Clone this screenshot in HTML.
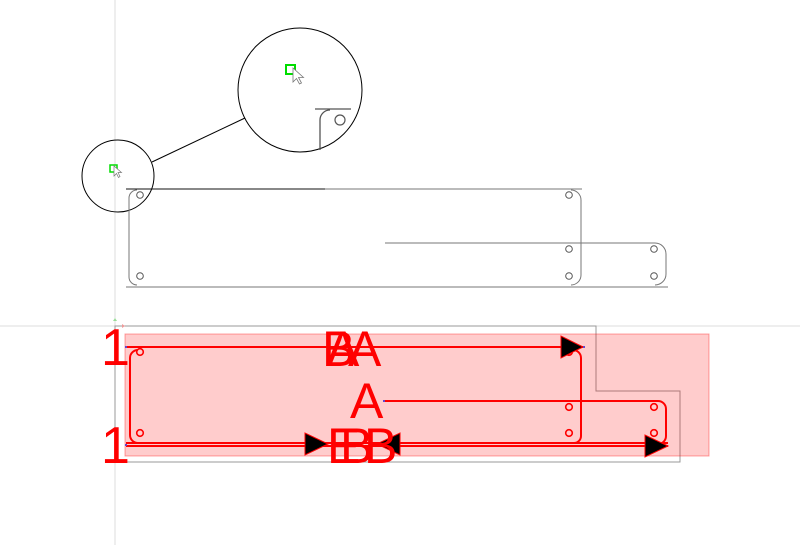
<!DOCTYPE html>
<html><head><style>html,body{margin:0;padding:0;background:#fff;width:800px;height:545px;overflow:hidden}</style></head>
<body>
<svg width="800" height="545" viewBox="0 0 800 545" xmlns="http://www.w3.org/2000/svg" font-family="Liberation Sans, sans-serif">
<line x1="115" y1="0" x2="115" y2="545" stroke="#ddd" stroke-width="1"/>
<line x1="0" y1="326" x2="800" y2="326" stroke="#ddd" stroke-width="1"/>
<circle cx="118" cy="176" r="36" fill="none" stroke="#000" stroke-width="1"/>
<circle cx="300" cy="90" r="62" fill="none" stroke="#000" stroke-width="1"/>
<line x1="152" y1="162" x2="245" y2="118" stroke="#000"/>
<rect x="110" y="165" width="7" height="7" fill="none" stroke="#0d0" stroke-width="1.5"/>
<path d="M114 166 l0 10 l2.5-2.5 l2 4 l1.5-1 l-2-4 l3.5 0 z" fill="#fff" stroke="#777" stroke-width="0.7"/>
<rect x="286" y="65" width="9" height="9" fill="none" stroke="#0d0" stroke-width="2"/>
<path d="M293 68 l0 14 l3.5-3.5 l3 5.5 l2-1 l-3-5.5 l5 0 z" fill="#fff" stroke="#777" stroke-width="0.8"/>
<path d="M315 109 h36 M320 150 v-30 a10 10 0 0 1 10 -10" fill="none" stroke="#555" stroke-width="1.3"/>
<circle cx="340" cy="120" r="5" fill="none" stroke="#555" stroke-width="1.2"/>
<line x1="126" y1="189" x2="325" y2="189" stroke="#111"/>
<line x1="325" y1="189" x2="582" y2="189" stroke="#777"/>
<path d="M137 190 a8 8 0 0 0 -8 8 v79 a8 8 0 0 0 8 8 M571 190 a10 10 0 0 1 10 10 v75 a10 10 0 0 1 -10 10" fill="none" stroke="#777"/>
<path d="M385 243 h270 a11 11 0 0 1 11 11 v20 a11 11 0 0 1 -11 11" fill="none" stroke="#777"/>
<line x1="126" y1="287" x2="668" y2="287" stroke="#777"/>
<g fill="none" stroke="#555" stroke-width="1">
<circle cx="140" cy="195" r="3.3"/><circle cx="140" cy="276" r="3.3"/>
<circle cx="569" cy="195" r="3.3"/><circle cx="569" cy="249" r="3.3"/><circle cx="569" cy="276" r="3.3"/>
<circle cx="654" cy="249" r="3.3"/><circle cx="654" cy="276" r="3.3"/>
</g>
<path d="M115 326 H596 V391 H680 V462 H115 Z" fill="none" stroke="#999"/>
<rect x="125" y="334" width="584" height="122" fill="rgba(255,0,0,0.2)" stroke="rgba(255,0,0,0.35)"/>
<g fill="none" stroke="#f00" stroke-width="2">
<line x1="126" y1="347" x2="583" y2="347"/>
<path d="M138 350 a8 8 0 0 0 -8 8 v77 a8 8 0 0 0 8 8 M573 350 a8 8 0 0 1 8 8 v78 a7 7 0 0 1 -7 7"/>
<path d="M384 401 h274 a8 8 0 0 1 8 8 v27 a8 8 0 0 1 -8 8"/>
<line x1="126" y1="443" x2="668" y2="443"/>
<line x1="126" y1="446" x2="668" y2="446"/>
</g>
<g fill="none" stroke="#f00" stroke-width="1.6">
<circle cx="140" cy="352" r="3.3"/><circle cx="140" cy="433" r="3.3"/>
<circle cx="569" cy="352" r="3.3"/><circle cx="569" cy="407" r="3.3"/><circle cx="569" cy="433" r="3.3"/>
<circle cx="654" cy="407" r="3.3"/><circle cx="654" cy="433" r="3.3"/>
</g>
<g fill="#000" stroke="#f00" stroke-width="1">
<path d="M583 347 L561 336 L561 358 Z"/>
<path d="M668 446 L645 435 L645 457 Z"/>
<path d="M328 444 L305 433 L305 455 Z"/>
<path d="M377 444 L400 433 L400 455 Z"/>
</g>
<g fill="#f00" font-size="50">
<text x="101" y="365" font-size="52">1</text>
<text x="101" y="463" font-size="52">1</text>
<text x="322" y="366">B</text>
<text x="326" y="366">A</text>
<text x="348" y="366">A</text>
<text x="350" y="418">A</text>
<text x="327" y="463">E</text>
<text x="340" y="463">B</text>
<text x="364" y="463">B</text>
</g>
<g fill="#64c">
<rect x="125" y="346" width="2" height="2"/><rect x="125" y="444" width="2" height="2"/>
<rect x="383" y="400" width="2" height="2"/><rect x="583" y="346" width="2" height="2"/>
</g>
<path d="M115 318 l-2 3 h4 z" fill="#9d9"/>
<path d="M125 326 l-3 -2 v4 z" fill="#e99"/>
</svg>
</body></html>
